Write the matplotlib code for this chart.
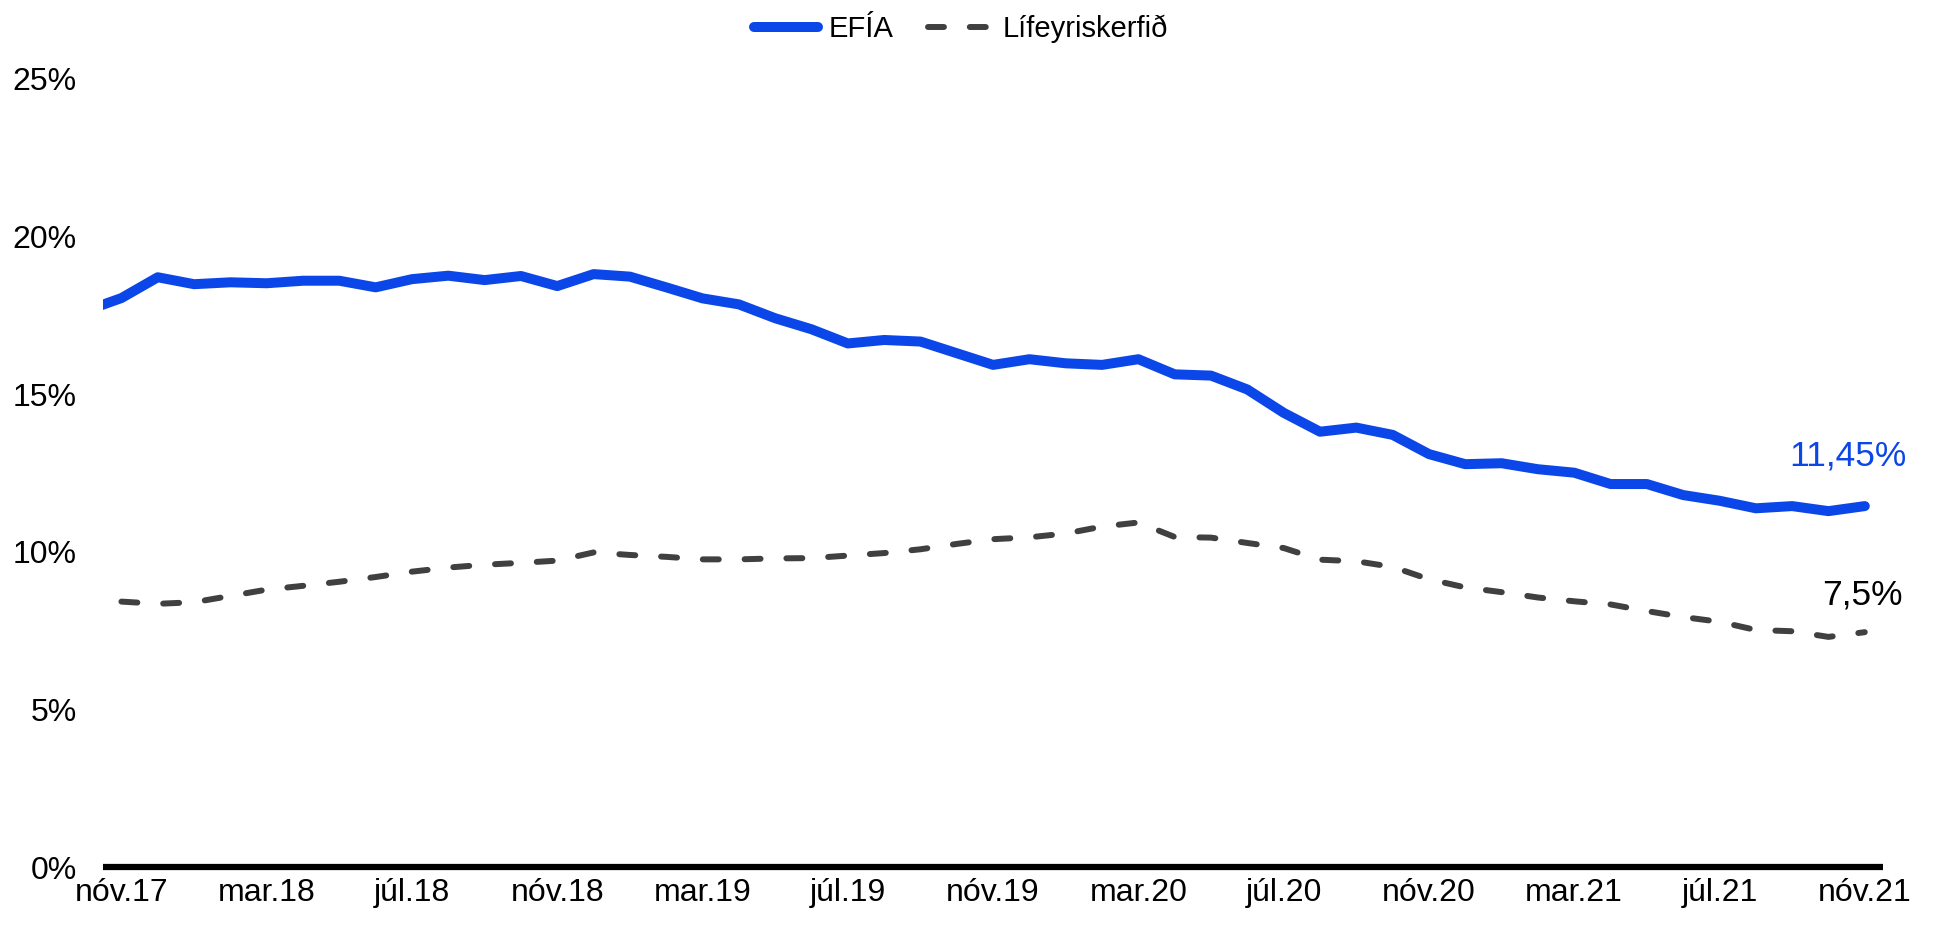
import matplotlib
matplotlib.use('Agg')
import matplotlib.pyplot as plt
import numpy as np

plt.rcParams['font.family'] = ['Liberation Sans', 'DejaVu Sans']

# mánuðir frá okt.17 til nóv.21 (fyrsti punktur EFÍA er klipptur við vinstri brún)
man_nofn = ['jan', 'feb', 'mar', 'apr', 'maí', 'jún', 'júl', 'ágú', 'sep', 'okt', 'nóv', 'des']
ar = [2017] * 3 + [2018] * 12 + [2019] * 12 + [2020] * 12 + [2021] * 11
man = [9, 10, 11] + list(range(12)) * 3 + list(range(11))
labels = [f"{man_nofn[m]}.{str(a)[2:]}" for a, m in zip(ar, man)]

efia = [17.64, 18.05, 18.71,
        18.49, 18.55, 18.52, 18.60, 18.60, 18.39, 18.65, 18.76, 18.62, 18.75, 18.43, 18.81,
        18.73, 18.39, 18.04, 17.85, 17.41, 17.06, 16.61, 16.72, 16.67, 16.30, 15.93, 16.11,
        15.98, 15.93, 16.11, 15.63, 15.59, 15.15, 14.41, 13.81, 13.94, 13.71, 13.10, 12.78,
        12.81, 12.62, 12.51, 12.15, 12.15, 11.80, 11.62, 11.38, 11.45, 11.29, 11.45]

lifeyr = [np.nan, 8.42, 8.35,
          8.40, 8.60, 8.80, 8.92, 9.05, 9.20, 9.37, 9.50, 9.59, 9.65, 9.72, 9.98,
          9.90, 9.84, 9.76, 9.76, 9.79, 9.80, 9.88, 9.96, 10.08, 10.25, 10.40, 10.46,
          10.58, 10.80, 10.93, 10.47, 10.45, 10.28, 10.12, 9.75, 9.70, 9.52, 9.13, 8.87,
          8.72, 8.55, 8.43, 8.33, 8.12, 7.93, 7.78, 7.52, 7.48, 7.30, 7.45]

blar = '#0b46e8'
grar = '#404040'

x = np.arange(len(efia)) - 1  # nóv.17 = 0

fig = plt.figure(figsize=(19.34, 9.25), dpi=100)
ax = fig.add_axes([0.0534, 0.0627, 0.9202, 0.8519])

ax.plot(x, efia, color=blar, lw=7.2, solid_capstyle='round',
        solid_joinstyle='round', label='EFÍA')
ax.plot(x, lifeyr, color=grar, lw=4.3, linestyle=(0, (2.67, 4.33)),
        dash_capstyle='round', label='Lífeyriskerfið')

ax.annotate('11,45%', (x[-1], efia[-1]), xytext=(-12, 36), textcoords='offset points',
            ha='center', va='center', fontsize=25.5, color=blar, annotation_clip=False)
ax.annotate('7,5%', (x[-1], lifeyr[-1]), xytext=(-1.5, 26.5), textcoords='offset points',
            ha='center', va='center', fontsize=25.5, color='black', annotation_clip=False)

ax.set_xlim(-0.5, 48.5)
ax.set_ylim(0, 25)
ax.set_yticks(np.arange(0, 26, 5))
ax.set_yticklabels([f"{v}%" for v in range(0, 26, 5)])
ax.set_xticks(x[1::4])
ax.set_xticklabels(labels[1::4])
ax.tick_params(axis='both', length=0, labelsize=23)
ax.tick_params(axis='y', pad=19)
ax.tick_params(axis='x', pad=8)

for s in ['top', 'right', 'left']:
    ax.spines[s].set_visible(False)
ax.spines['bottom'].set_linewidth(4.5)
ax.spines['bottom'].set_color('black')
ax.spines['bottom'].set_capstyle('butt')

fig.legend(loc='center', bbox_to_anchor=(0.497, 0.969), ncol=2, frameon=False,
           fontsize=21, handlelength=2.2, handletextpad=0.35, columnspacing=1.2)

fig.savefig('out.png', dpi=100)
